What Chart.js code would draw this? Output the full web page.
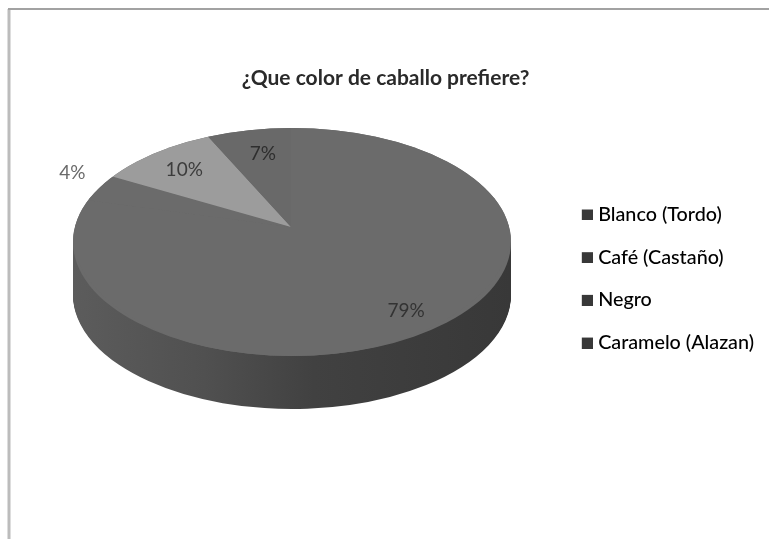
<!DOCTYPE html>
<html>
<head>
<meta charset="utf-8">
<style>
  html, body { margin: 0; padding: 0; background: #fff; }
  #wrap { position: relative; width: 769px; height: 539px; }
</style>
<script src="https://cdn.jsdelivr.net/npm/chart.js@4"></script>
</head>
<body>
<div id="wrap"><canvas id="c" width="769" height="539"></canvas></div>
<script>
const chartTitle = '¿Que color de caballo prefiere?';
const categories = ['Blanco (Tordo)', 'Café (Castaño)', 'Negro', 'Caramelo (Alazan)'];
const shares = [79, 4, 10, 7];
const sliceColors = ['#6b6b6b', '#6b6b6b', '#9c9c9c', '#696969'];
const legendColors = ['#383838', '#383838', '#383838', '#383838'];

// Tilted-disc projection: visible outline ellipse plus the off-centre apex of the wedges.
const outline = { cx: 292, cy: 242, rx: 219, ry: 114, depth: 53 };
const apex = { x: 291, y: 227 };
const backFan = { rx: 226, ry: 116 };
const frontFan = { rx: 221, ry: 130 };
// Label anchors: fractions of the fan radii along each slice's mid-angle.
const labelReachX = [0.85, 1.04, 0.69, 0.57];
const labelReachY = [0.82, 1.27, 0.68, 0.65];
const labelColors = ['#333333', '#6a6a6a', '#3c3c3c', '#2e2e2e'];

function repaint(arc, ctx, fill) {
  const view = Object.create(arc);
  view.options = Object.assign({}, arc.options, { backgroundColor: fill, borderWidth: 0, borderColor: fill });
  arc.draw.call(view, ctx);
}

function project(ctx, arc, cx, cy, rx, ry) {
  ctx.translate(cx, cy);
  ctx.scale(rx / arc.outerRadius, ry / arc.outerRadius);
  ctx.translate(-arc.x, -arc.y);
}

// Offset image used as the legend marker, so the label sits close to its square.
function legendMarker(color) {
  const c = document.createElement('canvas');
  c.width = 16; c.height = 12;
  const g = c.getContext('2d');
  g.fillStyle = color;
  g.fillRect(5, 1, 11, 11);
  return c;
}

const tiltedPie = {
  id: 'tiltedPie',
  beforeDraw(chart) {
    const ctx = chart.ctx;
    ctx.save();
    ctx.strokeStyle = '#bcbcbc';
    ctx.lineWidth = 3;
    ctx.beginPath();
    ctx.moveTo(9, 539);
    ctx.lineTo(9, 9);
    ctx.stroke();
    ctx.strokeStyle = '#a2a2a2';
    ctx.lineWidth = 2;
    ctx.beginPath();
    ctx.moveTo(8, 9);
    ctx.lineTo(769, 9);
    ctx.stroke();
    ctx.restore();
  },
  beforeDatasetDraw(chart) {
    const ctx = chart.ctx;
    const arcs = chart.getDatasetMeta(0).data;
    const first = arcs[0];
    const side = ctx.createLinearGradient(first.x - first.outerRadius, 0, first.x + first.outerRadius, 0);
    side.addColorStop(0, '#5c5c5c');
    side.addColorStop(0.3, '#505050');
    side.addColorStop(0.55, '#414141');
    side.addColorStop(1, '#383838');

    // Rim: stacked copies of the outline's front half, deepest first.
    ctx.save();
    ctx.beginPath();
    ctx.rect(0, outline.cy, chart.width, chart.height - outline.cy);
    ctx.clip();
    for (let d = outline.depth; d > 0; d--) {
      ctx.save();
      project(ctx, first, outline.cx, outline.cy + d, outline.rx, outline.ry);
      arcs.forEach(a => repaint(a, ctx, side));
      ctx.restore();
    }
    ctx.restore();

    // Top face: wedges fan out from the apex, trimmed by the outline ellipse.
    ctx.save();
    ctx.beginPath();
    ctx.ellipse(outline.cx, outline.cy, outline.rx, outline.ry, 0, 0, Math.PI * 2);
    ctx.clip();
    ctx.fillStyle = sliceColors[0];
    ctx.fillRect(0, 0, chart.width, chart.height);
    [[0, apex.y, backFan], [apex.y, chart.height - apex.y, frontFan]].forEach(([y, h, fan]) => {
      ctx.save();
      ctx.beginPath();
      ctx.rect(0, y, chart.width, h);
      ctx.clip();
      project(ctx, first, apex.x, apex.y, fan.rx, fan.ry);
      arcs.forEach((a, i) => repaint(a, ctx, sliceColors[i]));
      ctx.restore();
    });
    ctx.restore();

    // Percentage labels follow the projected mid-angle of each slice.
    ctx.save();
    ctx.font = '19px Lato';
    ctx.textAlign = 'center';
    ctx.textBaseline = 'middle';
    arcs.forEach((a, i) => {
      const mid = (a.startAngle + a.endAngle) / 2;
      const ux = Math.cos(mid), uy = Math.sin(mid);
      const fan = uy < 0 ? backFan : frontFan;
      ctx.fillStyle = labelColors[i];
      ctx.fillText(shares[i] + '%', apex.x + ux * fan.rx * labelReachX[i], apex.y + uy * fan.ry * labelReachY[i]);
    });
    ctx.restore();
    return false;
  }
};

new Chart(document.getElementById('c'), {
  type: 'pie',
  data: {
    labels: categories,
    datasets: [{ data: shares, backgroundColor: sliceColors, borderWidth: 0 }]
  },
  plugins: [tiltedPie],
  options: {
    responsive: false,
    animation: false,
    layout: { padding: { left: 7, right: 5, top: 18, bottom: 0 } },
    plugins: {
      tooltip: { enabled: false },
      title: {
        display: true,
        text: chartTitle,
        color: '#2a2a2a',
        font: { family: 'Lato', size: 21, weight: 'bold' },
        padding: { top: 48, bottom: 29 }
      },
      legend: {
        position: 'right',
        labels: {
          usePointStyle: true,
          pointStyleWidth: 7,
          boxHeight: 12,
          padding: 22.95,
          color: '#262626',
          font: { family: 'Lato', size: 19.75, weight: '500' },
          generateLabels() {
            return categories.map((text, i) => ({
              text, pointStyle: legendMarker(legendColors[i]), fillStyle: legendColors[i],
              strokeStyle: legendColors[i], lineWidth: 0, index: i
            }));
          }
        }
      }
    }
  }
});
</script>
</body>
</html>
